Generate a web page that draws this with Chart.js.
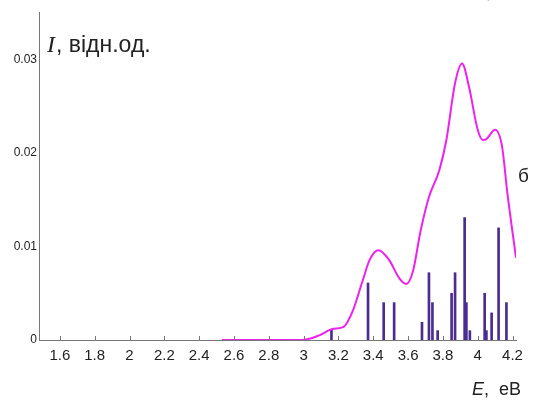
<!DOCTYPE html>
<html>
<head>
<meta charset="utf-8">
<script src="https://cdn.jsdelivr.net/npm/chart.js@4"></script>
<style>
html,body{margin:0;padding:0;background:#fff;}
#wrap{width:535px;height:400px;position:relative;}
</style>
</head>
<body>
<div id="wrap"><canvas id="chart" width="535" height="400"></canvas></div>
<script>
// spectrum envelope (E in eV, I in rel. units)
const curveE = [2.53, 2.99, 3.09, 3.17, 3.23, 3.28, 3.34, 3.38, 3.43, 3.49, 3.55, 3.59, 3.63, 3.67, 3.72, 3.78, 3.82, 3.87, 3.91, 3.95, 4.0, 4.03, 4.05, 4.1, 4.14, 4.17, 4.22];
const curveI = [0, 0, 0.0005, 0.0012, 0.0014, 0.003, 0.0064, 0.0086, 0.0096, 0.0086, 0.0066, 0.006, 0.0075, 0.0115, 0.0153, 0.0182, 0.0214, 0.0275, 0.0296, 0.0271, 0.0225, 0.0214, 0.0215, 0.0225, 0.0207, 0.0158, 0.0088];

// individual transitions
const stickE = [3.16, 3.37, 3.46, 3.52, 3.68, 3.72, 3.74, 3.77, 3.85, 3.87, 3.925, 3.935, 3.955, 4.04, 4.05, 4.08, 4.12, 4.165];
const stickI = [0.0011, 0.0061, 0.004, 0.004, 0.0019, 0.0072, 0.004, 0.001, 0.005, 0.0072, 0.0131, 0.004, 0.001, 0.005, 0.001, 0.0029, 0.012, 0.004];

const xTicks = [1.6, 1.8, 2, 2.2, 2.4, 2.6, 2.8, 3, 3.2, 3.4, 3.6, 3.8, 4, 4.2];
const xTickLabels = ["1.6", "1.8", "2", "2.2", "2.4", "2.6", "2.8", "3", "3.2", "3.4", "3.6", "3.8", "4", "4.2"];
const yTicks = [0, 0.01, 0.02, 0.03];
const yTickLabels = ["0", "0.01", "0.02", "0.03"];

const sans = "'Liberation Sans', Arial, sans-serif";
const serif = "'Liberation Serif', 'Times New Roman', serif";

function axisLabel(ctx, x, y, size) {
  ctx.font = "italic " + size + "px " + sans;
  ctx.fillText("E", x, y);
  const w = ctx.measureText("E").width;
  ctx.font = size + "px " + sans;
  ctx.fillText(",  eB", x + w, y);
}

const extras = {
  id: "extras",
  afterDraw(chart) {
    const ctx = chart.ctx;
    const x = chart.scales.x;
    ctx.save();
    // small tick marks pointing up from x axis
    ctx.strokeStyle = "#777";
    ctx.lineWidth = 1;
    xTicks.forEach(v => {
      const px = Math.round(x.getPixelForValue(v)) + 0.5;
      ctx.beginPath();
      ctx.moveTo(px, x.top);
      ctx.lineTo(px, x.top - 4);
      ctx.stroke();
    });
    ctx.fillStyle = "#222";
    ctx.textBaseline = "alphabetic";
    // y axis title
    ctx.font = "italic 24px " + serif;
    ctx.fillText("I", 47, 52);
    const w = ctx.measureText("I").width;
    ctx.font = "23px " + sans;
    ctx.fillText(", відн.од.", 47 + w + 1, 52);
    // x axis title and its cut-off copy at the top
    axisLabel(ctx, 472, 395, 18);
    ctx.globalAlpha = 0.6;
    axisLabel(ctx, 474, -2, 18);
    ctx.globalAlpha = 1;
    // panel letter
    ctx.font = "19px " + sans;
    ctx.fillText("б", 518, 182);
    ctx.restore();
  }
};

new Chart(document.getElementById("chart"), {
  type: "bar",
  data: {
    datasets: [
      {
        type: "line",
        data: curveE.map((e, i) => ({x: e, y: curveI[i]})),
        borderColor: "#ee22ee",
        borderWidth: 2,
        pointRadius: 0,
        fill: false,
        cubicInterpolationMode: "monotone",
        order: 1
      },
      {
        type: "bar",
        data: stickE.map((e, i) => ({x: e, y: stickI[i]})),
        backgroundColor: "#4b2d8f",
        barThickness: 2,
        order: 2
      }
    ]
  },
  options: {
    responsive: false,
    animation: false,
    layout: {padding: {top: 12, right: 19, left: 0, bottom: 0}},
    plugins: {legend: {display: false}, tooltip: {enabled: false}},
    scales: {
      x: {
        type: "linear",
        min: 1.48,
        max: 4.22,
        offset: false,
        grid: {display: false, drawTicks: false},
        border: {display: true, color: "#777", width: 1},
        afterBuildTicks: s => { s.ticks = xTicks.map(v => ({value: v})); },
        afterFit: s => { s.height = 60; },
        ticks: {
          autoSkip: false,
          maxRotation: 0,
          padding: 7,
          color: "#222",
          font: {family: sans, size: 15},
          callback: v => xTickLabels[xTicks.indexOf(v)]
        }
      },
      y: {
        min: 0,
        max: 0.0351,
        grid: {display: false, drawTicks: false},
        border: {display: true, color: "#777", width: 1},
        afterBuildTicks: s => { s.ticks = yTicks.map(v => ({value: v})); },
        afterFit: s => { s.width = 39; },
        ticks: {
          padding: 2,
          color: "#222",
          font: {family: sans, size: 12},
          callback: v => yTickLabels[yTicks.indexOf(v)]
        }
      }
    }
  },
  plugins: [extras]
});
</script>
</body>
</html>
